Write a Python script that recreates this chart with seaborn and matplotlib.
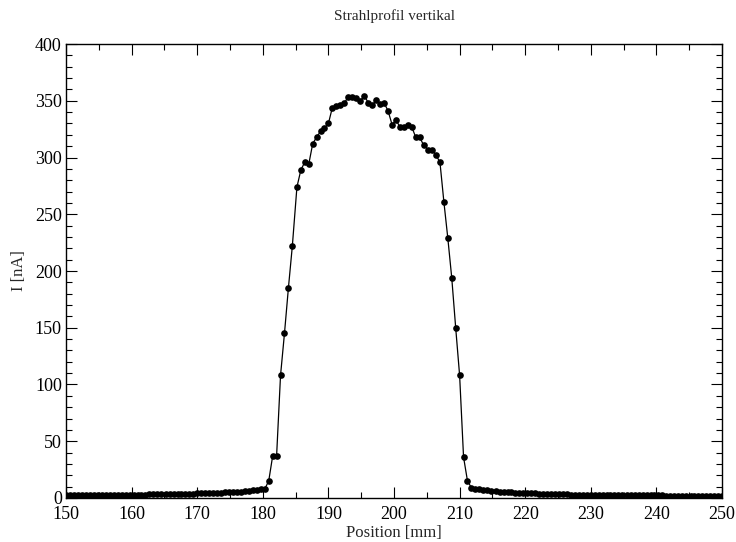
import matplotlib
matplotlib.use("Agg")
import matplotlib.pyplot as plt
from matplotlib.ticker import MultipleLocator
import seaborn as sns
import pandas as pd

# scan positions [mm]
position = [
    150.0, 150.6, 151.2, 151.8, 152.4, 153.0, 153.6, 154.2, 154.8, 155.5, 156.1,
    156.7, 157.3, 157.9, 158.5, 159.1, 159.7, 160.3, 160.9, 161.5, 162.1, 162.7,
    163.3, 163.9, 164.5, 165.2, 165.8, 166.4, 167.0, 167.6, 168.2, 168.8, 169.4,
    170.0, 170.6, 171.2, 171.8, 172.4, 173.0, 173.6, 174.2, 174.8, 175.5, 176.1,
    176.7, 177.3, 177.9, 178.5, 179.1, 179.7, 180.3, 180.9, 181.5, 182.1, 182.7,
    183.3, 183.9, 184.5, 185.2, 185.8, 186.4, 187.0, 187.6, 188.2, 188.8, 189.4,
    190.0, 190.6, 191.2, 191.8, 192.4, 193.0, 193.6, 194.2, 194.8, 195.5, 196.1,
    196.7, 197.3, 197.9, 198.5, 199.1, 199.7, 200.3, 200.9, 201.5, 202.1, 202.7,
    203.3, 203.9, 204.5, 205.2, 205.8, 206.4, 207.0, 207.6, 208.2, 208.8, 209.4,
    210.0, 210.6, 211.2, 211.8, 212.4, 213.0, 213.6, 214.2, 214.8, 215.5, 216.1,
    216.7, 217.3, 217.9, 218.5, 219.1, 219.7, 220.3, 220.9, 221.5, 222.1, 222.7,
    223.3, 223.9, 224.5, 225.2, 225.8, 226.4, 227.0, 227.6, 228.2, 228.8, 229.4,
    230.0, 230.6, 231.2, 231.8, 232.4, 233.0, 233.6, 234.2, 234.8, 235.5, 236.1,
    236.7, 237.3, 237.9, 238.5, 239.1, 239.7, 240.3, 240.9, 241.5, 242.1, 242.7,
    243.3, 243.9, 244.5, 245.2, 245.8, 246.4, 247.0, 247.6, 248.2, 248.8, 249.4,
    250.0,
]

# beam current [nA]
tail_left = [
    2.5, 2.5, 2.4, 2.4, 2.5, 2.5, 2.5, 2.6, 2.6, 2.6, 2.7, 2.7, 2.7, 2.8, 2.8, 2.8, 2.9,
    2.9, 3.0, 3.0, 3.0, 3.1, 3.1, 3.2, 3.2, 3.3, 3.4, 3.4, 3.5, 3.6, 3.7, 3.8, 3.9,
    4.0, 4.1, 4.2, 4.3, 4.4, 4.5, 4.7, 4.9, 5.0, 5.2, 5.4, 5.6, 5.9, 6.2, 6.6, 7.0, 7.6,
]
peak = [
    8, 15, 37, 37, 108, 145, 185, 222, 274, 289, 296, 294, 312, 318, 323, 326,
    330, 344, 345, 346, 348, 353, 353, 352, 350, 354, 348, 346, 351, 347, 348,
    341, 329, 333, 327, 327, 329, 327, 318, 318, 311, 307, 307, 302, 296, 261,
    229, 194, 150, 108, 36, 15, 9, 8,
]
tail_right = [
    7.5, 7.0, 6.6, 6.3, 6.0, 5.7, 5.5, 5.2, 5.0, 4.8, 4.6, 4.4,
    4.3, 4.1, 4.0, 3.9, 3.7, 3.6, 3.5, 3.4, 3.3, 3.2, 3.1, 3.0, 3.0, 2.9, 2.8, 2.8, 2.7,
    2.7, 2.6, 2.6, 2.5, 2.5, 2.5, 2.4, 2.4, 2.4, 2.3, 2.3, 2.3, 2.3, 2.2, 2.2, 2.2, 2.2,
    2.2, 2.1, 2.1, 2.1, 2.1, 2.1, 2.0, 2.0, 2.0, 2.0, 2.0, 2.0, 2.0, 2.0, 2.0, 2.0,
]
current = tail_left + peak + tail_right

df = pd.DataFrame({"pos": position, "I": current})

sns.set_style("ticks")
plt.rcParams["font.family"] = ["Liberation Serif", "DejaVu Serif"]

fig = plt.figure(figsize=(7.36, 5.42), dpi=100)
ax = fig.add_axes([0.0897, 0.0812, 0.8913, 0.8376])

sns.lineplot(data=df, x="pos", y="I", ax=ax, color="black", linewidth=0.9,
             marker="o", markersize=4.8, markeredgewidth=0, markerfacecolor="black",
             estimator=None, sort=False)

ax.set_xlim(150, 250)
ax.set_ylim(0, 400)
ax.xaxis.set_major_locator(MultipleLocator(10))
ax.xaxis.set_minor_locator(MultipleLocator(5))
ax.yaxis.set_major_locator(MultipleLocator(50))
ax.yaxis.set_minor_locator(MultipleLocator(10))
ax.tick_params(which="both", direction="in", top=True, right=True, colors="black",
               labelsize=13)
ax.tick_params(axis="x", pad=6)
ax.tick_params(axis="y", pad=3)
ax.tick_params(which="major", length=8, width=0.8)
ax.tick_params(which="minor", length=4, width=0.8)
for s in ax.spines.values():
    s.set_linewidth(1.0)
    s.set_color("black")

ax.set_title("Strahlprofil vertikal", fontsize=11, pad=17)
ax.set_xlabel("Position [mm]", fontsize=12, labelpad=1)
ax.set_ylabel("I [nA]", fontsize=12, labelpad=6)

plt.savefig("out.png", dpi=100)
